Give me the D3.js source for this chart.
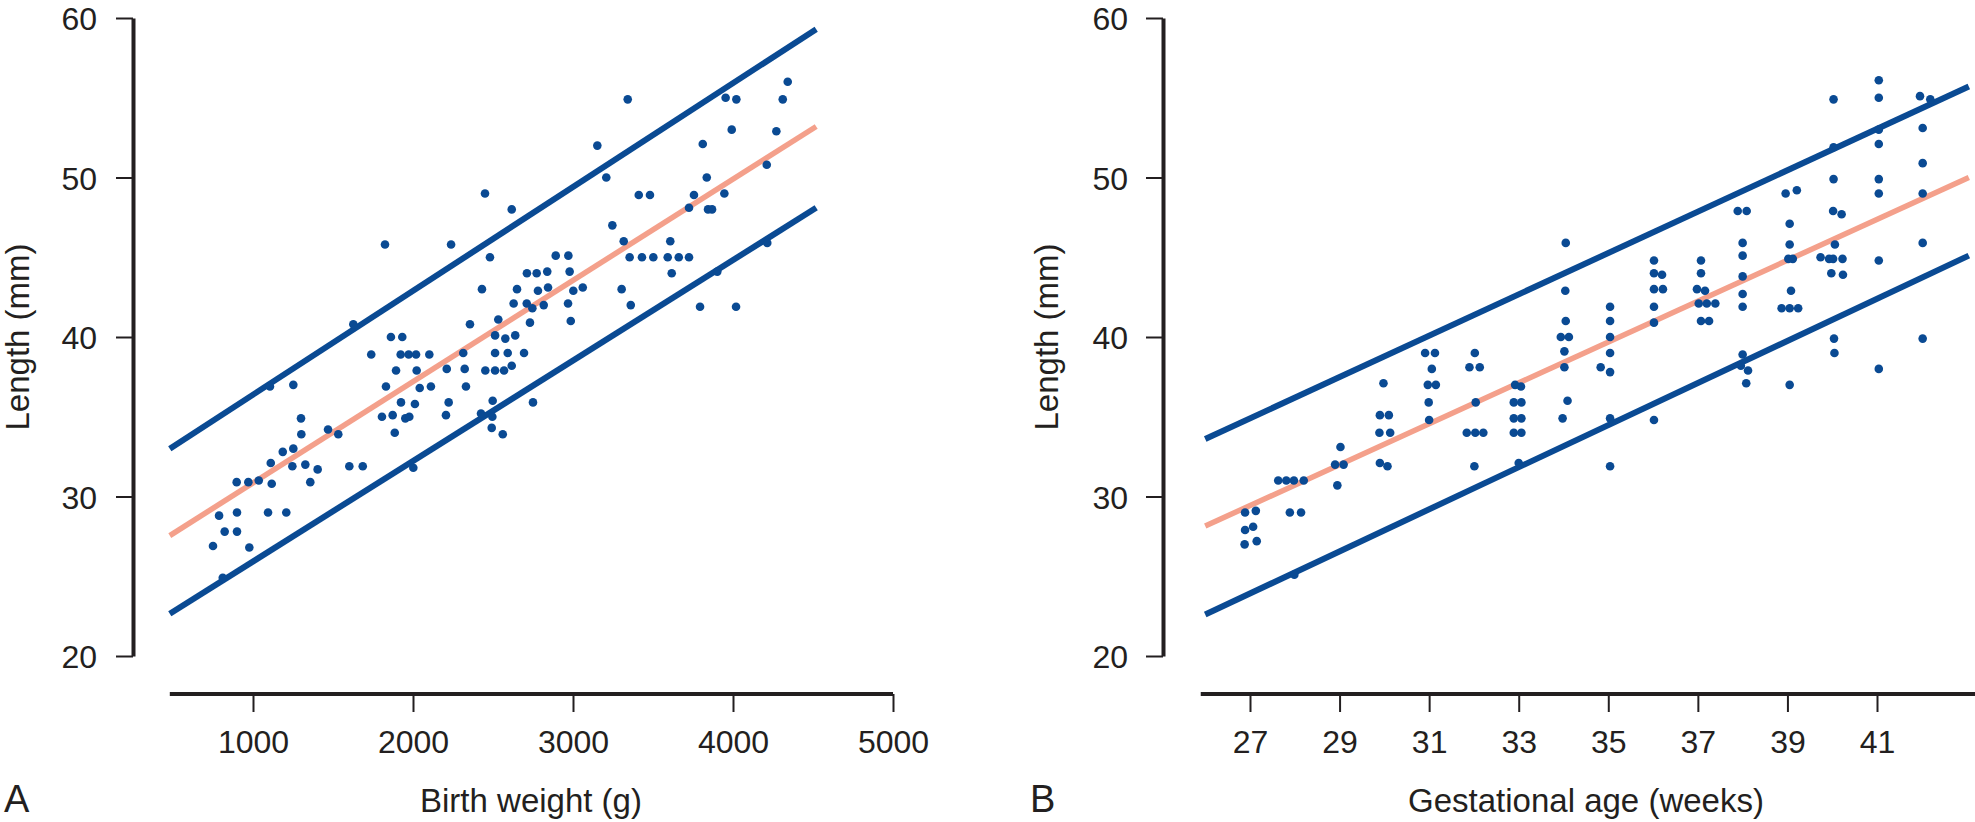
<!DOCTYPE html>
<html><head><meta charset="utf-8">
<script src="https://cdn.jsdelivr.net/npm/d3@7"></script>
<style>
body{margin:0;background:#fff}
svg{display:block}
text{font-family:"Liberation Sans",Arial,Helvetica,sans-serif;fill:#231f20}
</style>
</head><body>
<svg id="chart" width="1975" height="822"></svg>
<script>
// ---------- Panel A: birth weight ----------
const weightBW = [1627,1106,1252,1862,1933,1739,1923,1973,2019,2102,1894,2023,2211,1831,2042,2112,1925,2012,2223,1806,1873,1952,1977,2206,1886,1300,1302,1469,1533,1252,1186,1111,1246,1327,1404,1602,1686,2002,898,971,1036,1117,1358,788,900,1094,1208,823,900,750,977,811,
3152,3811,3208,3836,2450,3411,3481,3756,2617,3725,3844,3869,1825,2238,3246,3317,3608,2481,2892,2971,3354,3431,3502,3592,3661,3725,2712,2773,2839,2979,3617,2431,2650,2781,2844,3002,3061,3304,2629,2711,2746,2817,2969,3361,3794,2986,2731,2356,2533,2513,2577,2639,2314,2513,2592,2694,2323,2452,2513,2569,2617,2331,2498,2750,2425,2496,2492,2561,
3342,3954,4021,4342,4311,3992,4271,4211,3946,4019,4214,3902];
const lengthBW = [40.8,36.9,37.0,40.0,40.0,38.9,38.9,38.9,38.9,38.9,37.9,37.9,38.0,36.9,36.8,36.9,35.9,35.8,35.9,35.0,35.1,34.9,35.0,35.1,34.0,34.9,33.9,34.2,33.9,33.0,32.8,32.1,31.9,32.0,31.7,31.9,31.9,31.8,30.9,30.9,31.0,30.8,30.9,28.8,29.0,29.0,29.0,27.8,27.8,26.9,26.8,24.9,
52.0,52.1,50.0,50.0,49.0,48.9,48.9,48.9,48.0,48.1,48.0,48.0,45.8,45.8,47.0,46.0,46.0,45.0,45.1,45.1,45.0,45.0,45.0,45.0,45.0,45.0,44.0,44.0,44.1,44.1,44.0,43.0,43.0,42.9,43.1,42.9,43.1,43.0,42.1,42.1,41.8,42.0,42.1,42.0,41.9,41.0,40.9,40.8,41.1,40.1,39.9,40.1,39.0,39.0,39.0,39.0,38.0,37.9,37.9,37.9,38.2,36.9,36.0,35.9,35.2,35.0,34.3,33.9,
54.9,55.0,54.9,56.0,54.9,53.0,52.9,50.8,49.0,41.9,45.9,44.1];
const weightTicks = [1000,2000,3000,4000,5000];
const weightFitX = [480, 4520];
const weightUpper = [33.0, 59.3];
const weightMean = [27.55, 53.2];
const weightLower = [22.65, 48.1];

// ---------- Panel B: gestational age ----------
const weekGA = [26.89,27.13,26.89,27.07,26.88,27.15,
27.63,27.81,27.98,28.2,27.89,28.14,27.99,
29.02,28.9,29.09,28.95,
29.98,29.9,30.1,29.89,30.13,29.9,30.07,
30.91,31.13,31.06,30.97,31.15,30.99,31.0,
32.02,31.9,32.13,32.04,31.84,32.03,32.21,32.01,
32.92,33.05,32.89,33.06,32.89,33.06,32.89,33.06,33.0,
34.05,34.04,34.05,33.94,34.12,34.02,34.02,34.09,33.98,
35.04,35.04,35.04,35.04,34.83,35.04,35.04,35.04,
36.02,36.02,36.2,36.02,36.22,36.02,36.02,36.02,
37.07,37.07,36.98,37.16,37.02,37.2,37.39,37.07,37.25,
37.89,38.09,38.0,38.0,38.0,38.0,38.0,38.0,37.96,38.12,38.08,
38.96,39.21,39.05,39.05,39.02,39.12,39.08,38.87,39.05,39.24,39.05,
40.03,40.03,40.03,40.02,40.21,40.06,39.74,39.93,40.02,40.23,39.98,40.24,40.04,40.05,
41.04,41.04,41.04,41.04,41.04,41.04,41.04,41.04,
41.96,42.19,42.02,42.02,42.02,42.02,42.02];
const lengthGA = [29.0,29.1,27.9,28.1,27.0,27.2,
31.0,31.0,31.0,31.0,29.0,29.0,25.1,
33.1,32.0,32.0,30.7,
37.1,35.1,35.1,34.0,34.0,32.1,31.9,
39.0,39.0,38.0,37.0,37.0,35.9,34.8,
39.0,38.1,38.1,35.9,34.0,34.0,34.0,31.9,
37.0,36.9,35.9,35.9,34.9,34.9,34.0,34.0,32.1,
45.9,42.9,41.0,40.0,40.0,39.1,38.1,36.0,34.9,
41.9,41.0,40.0,39.0,38.1,37.8,34.9,31.9,
44.8,44.0,43.9,43.0,43.0,41.9,40.9,34.8,
44.8,44.0,43.0,42.9,42.1,42.1,42.1,41.0,41.0,
47.9,47.9,45.9,45.1,43.8,42.7,41.9,38.9,38.2,37.9,37.1,
49.0,49.2,47.1,45.8,44.9,44.9,42.9,41.8,41.8,41.8,37.0,
54.9,51.9,49.9,47.9,47.7,45.8,45.0,44.9,44.9,44.9,44.0,43.9,39.9,39.0,
56.1,55.0,53.0,52.1,49.9,49.0,44.8,38.0,
55.1,54.9,53.1,50.9,49.0,45.9,39.9];
const weekTicks = [27,29,31,33,35,37,39,41];
const ageFitX = [26.0, 43.05];
const ageUpper = [33.6, 55.7];
const ageMean = [28.15, 50.0];
const ageLower = [22.6, 45.1];

const lengthTicks = [20,30,40,50,60];

const BLUE = "#0a4a93", SALMON = "#f4a08b", INK = "#231f20";
const svg = d3.select("#chart");

function panel(o) {
  const g = svg.append("g");
  const x = d3.scaleLinear().domain(o.xDom).range(o.xRange);
  const y = d3.scaleLinear().domain([20, 60]).range([656, 18]);

  // x axis
  g.append("line")
    .attr("x1", x(o.axisExtent[0])).attr("x2", x(o.axisExtent[1]))
    .attr("y1", 694).attr("y2", 694)
    .attr("stroke", INK).attr("stroke-width", 4);
  const xa = g.append("g").attr("transform", "translate(0,694)")
    .call(d3.axisBottom(x).tickValues(o.xTicks).tickFormat(d => d).tickSize(18).tickPadding(18));
  xa.select(".domain").remove();
  xa.selectAll(".tick line").attr("stroke", INK).attr("stroke-width", 2);
  xa.selectAll(".tick text").attr("font-size", 32);

  // y axis
  const ya = g.append("g").attr("transform", `translate(${o.yAxisX},0)`)
    .call(d3.axisLeft(y).tickValues(lengthTicks).tickSize(17).tickSizeOuter(0).tickPadding(o.yPad));
  ya.select(".domain").attr("stroke", INK).attr("stroke-width", 4);
  ya.selectAll(".tick line").attr("stroke", INK).attr("stroke-width", 2);
  ya.selectAll(".tick text").attr("font-size", 32).attr("dy", "0.36em");

  // lines
  const line = d3.line().x(d => x(d[0])).y(d => y(d[1]));
  const mk = vals => o.fitX.map((v, i) => [v, vals[i]]);
  g.append("path").attr("d", line(mk(o.upper))).attr("fill", "none").attr("stroke", BLUE).attr("stroke-width", 6);
  g.append("path").attr("d", line(mk(o.lower))).attr("fill", "none").attr("stroke", BLUE).attr("stroke-width", 6);
  g.append("path").attr("d", line(mk(o.mean))).attr("fill", "none").attr("stroke", SALMON).attr("stroke-width", 5.5);

  // dots
  g.append("g").selectAll("circle")
    .data(o.xs.map((v, i) => [v, o.ys[i]]))
    .join("circle")
    .attr("cx", d => x(d[0])).attr("cy", d => y(d[1]))
    .attr("r", 4.3).attr("fill", BLUE);

  // titles
  g.append("text").attr("x", o.xTitleX).attr("y", 812).attr("text-anchor", "middle")
    .attr("font-size", 33).text(o.xTitle);
  g.append("text").attr("transform", `translate(${o.yTitleX},337) rotate(-90)`)
    .attr("text-anchor", "middle").attr("font-size", 33).text("Length (mm)");
  g.append("text").attr("x", o.letterX).attr("y", 812).attr("font-size", 38).text(o.letter);
}

panel({
  xDom: [1000, 5000], xRange: [253, 893], axisExtent: [480, 5000], xTicks: weightTicks,
  yAxisX: 133, yPad: 19,
  fitX: weightFitX, upper: weightUpper, mean: weightMean, lower: weightLower,
  xs: weightBW, ys: lengthBW,
  xTitle: "Birth weight (g)", xTitleX: 531, yTitleX: 29, letter: "A", letterX: 4
});
panel({
  xDom: [27, 41], xRange: [1250, 1877], axisExtent: [25.9, 43.6], xTicks: weekTicks,
  yAxisX: 1163, yPad: 18,
  fitX: ageFitX, upper: ageUpper, mean: ageMean, lower: ageLower,
  xs: weekGA, ys: lengthGA,
  xTitle: "Gestational age (weeks)", xTitleX: 1586, yTitleX: 1058, letter: "B", letterX: 1030
});
</script>
</body></html>
